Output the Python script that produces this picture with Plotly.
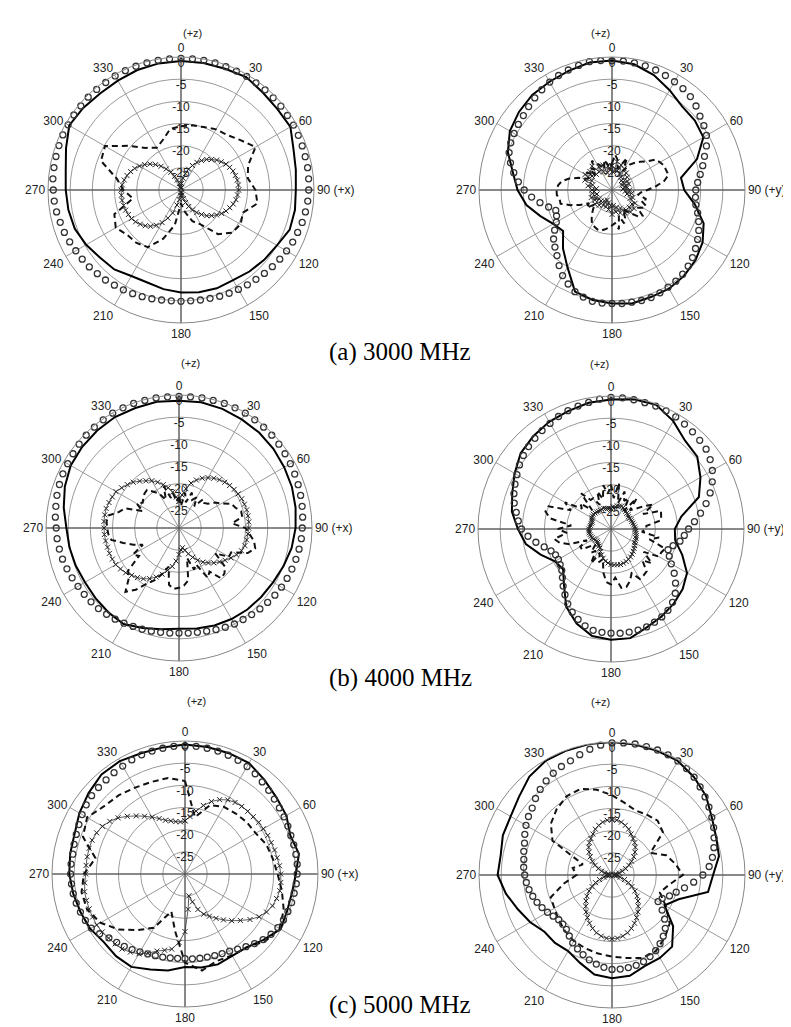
import plotly.graph_objects as go

W, H = 791, 1027
TH5 = list(range(0, 360, 5))
TH10 = list(range(0, 360, 10))
ANG_TICKS = list(range(0, 360, 30))
RING_LABELS = ["0", "-5", "-10", "-15", "-20", "-25"]
RING_VALUES = [0, -5, -10, -15, -20, -25]

# ---------------- (a) 3000 MHz, left (xz-plane) ----------------
A_L_SIM = [-0.3,-0.3,-0.3,-0.3,-0.4,-0.4,-0.4,-0.5,-0.5,-0.6,-0.6,-0.7,-0.7,-0.8,-0.9,-1.0,-1.0,-1.1,
           -1.2,-1.3,-1.5,-1.7,-2.0,-2.2,-2.5,-2.8,-3.1,-3.4,-3.7,-3.9,-4.1,-4.3,-4.5,-4.7,-4.8,-4.9,
           -4.9,-4.9,-4.8,-4.6,-4.4,-4.2,-4.0,-3.8,-3.5,-3.3,-3.0,-2.8,-2.6,-2.3,-2.0,-1.8,-1.5,-1.3,
           -1.2,-1.0,-0.9,-0.8,-0.7,-0.6,-0.6,-0.5,-0.5,-0.4,-0.4,-0.4,-0.3,-0.3,-0.3,-0.3,-0.3,-0.3]
A_L_SOLID = [-0.9,-0.9,-0.9,-0.6,-1.3,-1.6,-1.5,-3.0,-3.7,-4.1,-3.9,-3.9,-5.0,-5.5,-6.0,-6.5,-6.4,-6.6,
             -6.9,-7.3,-7.8,-7.6,-6.6,-6.2,-5.3,-4.5,-4.2,-4.0,-3.6,-2.4,-0.9,-1.2,-1.6,-1.5,-1.2,-1.0]
A_L_DASH = [-15.6,-15.2,-14.9,-14.2,-13.8,-12.5,-10.6,-13.9,-14.7,-13.2,-12.5,-15.1,-14.5,-15.0,-17.0,-21.0,-22.5,-25.0,
            -27.0,-22.0,-18.3,-15.1,-14.4,-14.2,-13.0,-14.0,-19.0,-17.0,-15.3,-10.8,-10.2,-14.5,-17.6,-19.0,-18.0,-16.0]
A_L_CROSS = [-29.5,-28.5,-27.3,-26.2,-25.0,-23.9,-22.8,-21.9,-21.0,-20.3,-19.5,-18.9,-18.3,-17.9,-17.5,-17.3,-17.1,-17.0,
             -17.0,-17.2,-17.4,-17.8,-18.3,-18.8,-19.4,-20.2,-21.0,-21.8,-22.8,-23.8,-24.8,-25.9,-27.0,-28.0,-28.8,-29.3,
             -29.5,-28.8,-27.8,-26.5,-24.5,-23.0,-21.5,-20.3,-19.3,-18.6,-18.0,-17.5,-17.1,-16.9,-16.7,-16.6,-16.5,-16.5,
             -16.5,-16.7,-17.0,-17.4,-17.9,-18.5,-19.2,-20.0,-20.9,-21.9,-23.0,-24.2,-25.4,-26.6,-27.6,-28.5,-29.2,-29.6]

# ---------------- (a) 3000 MHz, right (yz-plane) ----------------
A_R_SIM = [-0.8,-0.8,-0.9,-1.0,-1.2,-1.5,-1.8,-2.1,-2.5,-3.2,-4.1,-4.7,-5.4,-6.5,-7.8,-8.8,-9.8,-10.6,
           -11.1,-11.1,-10.8,-10.0,-9.2,-8.4,-7.7,-7.0,-6.3,-5.7,-5.2,-4.9,-4.7,-4.4,-4.2,-4.2,-4.3,-4.3,
           -4.4,-4.4,-4.5,-5.0,-5.6,-6.6,-7.7,-9.2,-10.7,-11.8,-12.8,-14.2,-15.5,-16.2,-16.5,-15.2,-13.5,-11.8,
           -10.2,-8.8,-7.5,-6.3,-5.3,-4.8,-4.5,-4.2,-3.9,-3.4,-2.9,-2.4,-1.9,-1.5,-1.2,-0.9,-0.6,-0.7]
A_R_SOLID = [-0.8,-1.2,-2.4,-4.0,-5.4,-5.6,-6.2,-9.6,-14.2,-13.7,-11.0,-8.0,-6.4,-5.4,-4.7,-4.3,-4.3,-4.0,
             -4.4,-4.8,-5.6,-9.9,-12.8,-15.6,-14.7,-12.8,-10.4,-8.7,-7.3,-5.0,-3.4,-2.6,-2.0,-1.8,-1.4,-0.8]
A_R_DASH = [-24.0,-22.0,-23.0,-25.0,-24.0,-22.0,-25.0,-23.0,-22.0,-21.0,-20.0,-18.0,-17.5,-17.0,-17.0,-16.8,-18.0,-20.0,
            -22.0,-23.5,-24.0,-22.0,-23.0,-21.5,-22.0,-23.0,-21.0,-21.5,-23.0,-24.0,-25.0,-23.0,-22.0,-24.0,-21.0,-22.5,
            -22.0,-21.5,-21.0,-20.5,-20.5,-20.8,-21.0,-22.0,-23.0,-24.0,-25.0,-23.0,-24.0,-22.0,-20.0,-18.0,-18.0,-17.5,
            -17.5,-17.8,-18.5,-20.0,-22.0,-24.0,-24.0,-23.0,-25.0,-23.0,-24.0,-22.0,-23.0,-24.0,-25.0,-23.0,-24.0,-25.0]
A_R_CROSS = [-24.5,-26.0,-23.5,-25.5,-24.0,-26.0,-24.5,-26.5,-25.0,-27.0,-25.5,-27.0,-26.0,-27.5,-26.0,-27.0,-26.5,-27.5,
             -26.0,-27.0,-25.5,-26.5,-25.0,-25.5,-24.0,-24.5,-23.5,-24.5,-23.5,-24.5,-24.0,-25.5,-24.5,-26.0,-25.0,-26.5,
             -24.5,-26.5,-25.5,-27.0,-26.0,-27.5,-26.0,-27.0,-25.5,-26.5,-25.0,-26.5,-25.5,-26.0,-25.0,-26.5,-25.5,-26.0,
             -25.5,-26.5,-24.5,-25.5,-23.5,-25.0,-23.0,-24.5,-23.5,-25.0,-23.0,-25.0,-24.0,-25.5,-24.0,-26.0,-24.5,-25.5]

# ---------------- (b) 4000 MHz, left ----------------
B_L_SIM = [-0.3,-0.3,-0.2,-0.2,-0.1,-0.1,-0.1,-0.2,-0.3,-0.4,-0.6,-0.8,-1.0,-1.2,-1.4,-1.6,-1.8,-2.0,
           -2.2,-2.3,-2.5,-2.7,-2.9,-3.1,-3.3,-3.6,-3.9,-4.2,-4.5,-4.8,-5.0,-5.3,-5.6,-5.9,-6.1,-6.2,
           -6.3,-6.2,-6.1,-5.9,-5.7,-5.5,-5.2,-4.9,-4.6,-4.3,-4.1,-3.9,-3.7,-3.4,-3.1,-2.8,-2.6,-2.4,
           -2.3,-2.0,-1.8,-1.5,-1.3,-1.1,-1.0,-0.8,-0.6,-0.4,-0.3,-0.2,-0.1,-0.1,-0.1,-0.2,-0.2,-0.3]
B_L_SOLID = [-1.3,-1.2,-1.4,-1.7,-1.9,-2.2,-2.6,-2.9,-3.3,-3.7,-4.2,-4.9,-5.5,-5.8,-6.0,-6.3,-6.6,-7.0,
             -7.3,-6.8,-6.0,-5.0,-5.2,-5.4,-5.5,-5.2,-4.9,-4.6,-3.6,-2.6,-1.8,-1.5,-1.3,-1.1,-1.2,-1.1]
B_L_DASH = [-23.0,-25.0,-22.0,-24.0,-21.5,-23.0,-22.0,-24.0,-21.5,-22.0,-21.5,-20.0,-19.0,-17.0,-16.5,-15.5,-15.5,-18.0,
            -15.0,-14.0,-12.8,-12.2,-13.5,-17.0,-17.0,-20.0,-16.5,-15.5,-15.2,-18.0,-17.0,-21.0,-20.0,-23.0,-18.0,-17.0,
            -16.5,-16.2,-17.0,-21.0,-19.0,-17.0,-15.5,-13.0,-11.2,-14.0,-15.0,-19.0,-18.0,-21.0,-19.0,-17.0,-14.5,-14.0,
            -13.8,-13.6,-13.8,-16.0,-17.0,-21.0,-19.0,-20.0,-19.5,-19.0,-18.8,-20.0,-21.0,-23.0,-20.0,-23.0,-22.0,-24.0]
B_L_CROSS = [-24.0,-22.5,-21.0,-19.5,-18.5,-17.6,-16.9,-16.3,-15.8,-15.4,-15.1,-14.8,-14.6,-14.4,-14.3,-14.2,-14.2,-14.2,
             -14.3,-14.4,-14.5,-14.6,-15.0,-15.7,-16.5,-17.3,-18.1,-18.9,-19.7,-20.6,-21.6,-22.7,-23.8,-24.8,-25.5,-25.0,
             -24.0,-22.5,-21.2,-20.1,-18.9,-17.8,-16.8,-16.0,-15.4,-14.9,-14.3,-13.9,-13.5,-13.4,-13.3,-13.3,-13.2,-13.1,
             -13.1,-13.0,-13.0,-13.0,-13.2,-13.4,-13.6,-14.2,-14.8,-15.4,-16.2,-17.0,-17.7,-18.6,-19.6,-20.6,-21.8,-23.0]

# ---------------- (b) 4000 MHz, right ----------------
B_R_SIM = [-0.3,-0.3,-0.4,-0.5,-0.5,-0.6,-0.8,-1.1,-1.4,-1.7,-2.0,-2.7,-3.6,-4.8,-6.2,-7.8,-9.5,-11.1,
           -12.5,-13.4,-14.2,-15.5,-16.3,-15.5,-14.3,-12.6,-11.0,-9.5,-8.4,-7.6,-7.1,-6.8,-6.5,-6.4,-6.4,-6.4,
           -6.5,-6.6,-6.8,-7.4,-8.3,-9.3,-10.5,-11.9,-13.2,-14.5,-15.5,-16.0,-16.3,-16.2,-15.6,-14.4,-12.8,-11.2,
           -9.8,-9.0,-8.3,-7.4,-6.7,-6.1,-5.5,-4.8,-4.2,-3.7,-3.3,-2.9,-2.5,-2.0,-1.6,-1.3,-1.0,-0.6]
B_R_SOLID = [-0.8,-0.3,-0.2,-1.9,-4.0,-4.6,-6.7,-8.9,-13.9,-15.6,-15.3,-12.9,-10.2,-8.9,-8.0,-7.2,-6.4,-5.0,
             -5.0,-5.5,-7.3,-9.8,-13.5,-15.9,-15.4,-13.1,-10.5,-9.0,-7.3,-6.3,-4.9,-3.4,-2.7,-2.1,-1.7,-1.1]
B_R_DASH = [-20.0,-23.0,-19.5,-24.0,-21.0,-23.0,-22.0,-25.0,-21.0,-24.0,-23.0,-21.0,-19.0,-22.0,-18.0,-18.3,-18.5,-22.0,
            -22.0,-23.0,-19.0,-21.0,-17.0,-17.5,-17.5,-21.0,-18.0,-20.0,-17.5,-17.2,-17.0,-19.0,-17.5,-16.5,-16.5,-19.0,
            -17.5,-18.0,-20.0,-23.0,-22.0,-24.0,-21.0,-24.0,-23.0,-25.0,-24.0,-22.0,-22.0,-24.0,-20.0,-18.0,-17.0,-20.0,
            -18.0,-21.0,-16.0,-14.7,-15.0,-20.0,-18.0,-22.0,-21.0,-24.0,-19.5,-22.0,-22.0,-24.0,-21.0,-23.0,-20.0,-22.0]
B_R_CROSS = [-25.5,-25.0,-25.0,-24.6,-24.5,-24.3,-24.5,-24.6,-24.8,-25.0,-25.0,-25.2,-25.2,-25.0,-25.0,-24.9,-24.8,-24.6,
             -24.5,-24.4,-24.3,-24.1,-24.0,-23.9,-23.8,-23.5,-23.2,-22.9,-22.6,-22.3,-22.1,-21.9,-21.8,-21.7,-21.8,-21.9,
             -22.0,-22.3,-22.6,-23.2,-23.8,-24.4,-25.0,-25.3,-25.5,-25.7,-25.8,-25.7,-25.5,-25.3,-25.2,-25.1,-25.0,-25.0,
             -25.0,-25.2,-25.3,-25.4,-25.5,-25.3,-25.0,-24.9,-24.8,-24.9,-25.0,-25.1,-25.2,-25.1,-25.0,-25.2,-25.3,-25.4]

# ---------------- (c) 5000 MHz, left ----------------
C_L_SIM = [-1.1,-1.1,-1.2,-1.3,-1.5,-1.7,-2.0,-2.4,-2.9,-3.3,-3.7,-4.0,-4.2,-4.4,-4.6,-4.6,-4.6,-4.6,
           -4.7,-4.8,-5.0,-5.1,-5.3,-5.5,-5.8,-6.3,-7.0,-7.8,-8.6,-9.3,-9.9,-10.2,-10.4,-10.6,-10.7,-10.8,
           -10.9,-10.9,-10.8,-10.6,-10.4,-10.1,-9.7,-9.2,-8.7,-8.2,-7.6,-6.5,-5.6,-5.2,-4.9,-4.6,-4.4,-4.3,
           -4.2,-4.2,-4.3,-4.1,-3.9,-3.6,-3.2,-2.8,-2.5,-2.4,-2.3,-2.1,-1.9,-1.6,-1.4,-1.3,-1.2,-1.1]
C_L_SOLID = [-0.8,-0.9,-1.0,-1.1,-2.2,-3.1,-3.6,-4.7,-3.9,-5.0,-5.5,-5.5,-5.1,-6.9,-8.4,-8.7,-8.3,-8.6,
             -9.0,-7.9,-7.1,-5.8,-5.8,-6.1,-5.3,-4.9,-4.4,-3.9,-3.7,-3.5,-2.5,-1.6,-0.7,-0.6,-1.0,-1.0]
C_L_DASH = [-9.0,-17.0,-13.5,-12.5,-12.2,-11.8,-11.6,-10.5,-9.9,-9.1,-7.8,-6.3,-5.4,-6.4,-8.4,-8.8,-9.1,-7.9,
            -10.0,-17.0,-21.0,-16.0,-13.5,-10.5,-8.0,-6.5,-6.3,-7.2,-9.5,-5.5,-4.5,-6.2,-6.8,-7.5,-7.9,-8.0]
C_L_CROSS = [-18.0,-17.0,-15.6,-14.0,-12.6,-11.5,-10.7,-10.3,-10.1,-10.0,-9.9,-9.7,-9.6,-9.4,-9.3,-9.1,-8.9,-8.6,
             -8.4,-8.3,-8.3,-8.6,-9.0,-9.7,-10.7,-12.1,-13.7,-15.1,-16.5,-17.8,-19.0,-20.0,-21.5,-23.5,-25.0,-22.0,
             -17.0,-14.5,-12.8,-12.2,-11.5,-10.3,-9.2,-8.5,-7.9,-7.7,-7.5,-7.2,-7.0,-7.0,-7.0,-7.0,-7.0,-7.3,
             -7.6,-7.6,-7.6,-7.6,-7.7,-8.0,-8.5,-9.3,-10.3,-11.6,-12.9,-14.1,-15.2,-16.2,-17.1,-17.6,-18.0,-18.2]

# ---------------- (c) 5000 MHz, right ----------------
C_R_SIM = [-0.2,-0.1,0.0,0.0,0.0,-0.1,-0.3,-0.7,-1.2,-1.9,-2.6,-3.3,-4.0,-4.7,-5.5,-6.2,-7.0,-8.0,
           -9.5,-11.5,-13.4,-15.0,-16.2,-17.5,-18.0,-16.2,-14.5,-13.0,-12.0,-11.1,-10.3,-9.7,-9.2,-8.9,-8.8,-8.7,
           -8.7,-9.1,-9.6,-10.2,-10.9,-11.6,-12.3,-13.2,-14.0,-14.3,-14.3,-13.8,-13.2,-12.6,-12.0,-11.5,-11.0,-10.6,
           -10.3,-10.0,-9.8,-9.4,-9.0,-8.3,-7.6,-7.0,-6.5,-5.6,-4.8,-4.1,-3.5,-3.0,-2.6,-1.9,-1.2,-0.6]
C_R_SOLID = [0.0,-0.1,-0.2,-0.3,-1.2,-2.3,-4.0,-5.0,-5.5,-7.2,-8.0,-14.0,-16.3,-12.0,-8.9,-8.4,-8.2,-6.9,
             -6.7,-7.2,-8.9,-10.2,-10.0,-10.1,-8.7,-7.4,-5.7,-4.2,-4.5,-3.8,-3.6,-2.6,-1.0,-0.2,-0.1,0.0]
C_R_DASH = [-12.0,-13.5,-14.5,-14.3,-14.0,-15.0,-20.0,-17.0,-15.5,-14.0,-17.0,-18.5,-16.0,-13.0,-11.5,-10.2,-10.1,-11.0,
            -11.6,-12.0,-12.4,-12.8,-13.5,-14.3,-15.0,-15.3,-19.0,-22.0,-21.0,-23.0,-14.5,-12.0,-10.6,-9.5,-9.3,-10.5]
C_R_CROSS = [-17.5,-17.6,-17.9,-18.4,-19.0,-19.8,-20.5,-21.1,-21.8,-22.7,-23.6,-24.6,-25.6,-26.6,-27.5,-28.3,-29.0,-29.3,
             -29.5,-29.4,-29.0,-28.1,-27.0,-25.9,-24.8,-23.7,-22.6,-21.7,-20.8,-19.8,-18.9,-18.0,-17.2,-16.5,-16.0,-15.7,
             -15.6,-15.7,-16.0,-16.5,-17.2,-18.0,-18.9,-19.8,-20.8,-21.7,-22.6,-23.7,-24.8,-25.9,-27.0,-28.1,-29.0,-29.4,
             -29.5,-29.3,-29.0,-28.3,-27.5,-26.6,-25.6,-24.6,-23.6,-22.7,-21.8,-21.1,-20.5,-19.8,-19.0,-18.4,-17.9,-17.6]

CAPTIONS = ["(a) 3000 MHz", "(b) 4000 MHz", "(c) 5000 MHz"]

panels = [
    dict(cx=173, cy=182, axis="(+x)", data=(A_L_SIM, A_L_SOLID, A_L_DASH, A_L_CROSS)),
    dict(cx=604, cy=182, axis="(+y)", data=(A_R_SIM, A_R_SOLID, A_R_DASH, A_R_CROSS)),
    dict(cx=171, cy=520, axis="(+x)", data=(B_L_SIM, B_L_SOLID, B_L_DASH, B_L_CROSS)),
    dict(cx=603, cy=521, axis="(+y)", data=(B_R_SIM, B_R_SOLID, B_R_DASH, B_R_CROSS)),
    dict(cx=177, cy=866, axis="(+x)", data=(C_L_SIM, C_L_SOLID, C_L_DASH, C_L_CROSS)),
    dict(cx=604, cy=867, axis="(+y)", data=(C_R_SIM, C_R_SOLID, C_R_DASH, C_R_CROSS)),
]
caption_pos = [(392, 328), (392, 670), (392, 1013)]
R = 133

SANS = "Arial, Liberation Sans, sans-serif"
SERIF = "Times New Roman, Liberation Serif, serif"

def closed(vals):
    thetas = TH5 if len(vals) == 72 else TH10
    return list(vals) + [vals[0]], list(thetas) + [360]

fig = go.Figure()
annotations = []
for i, p in enumerate(panels):
    key = "polar" if i == 0 else f"polar{i+1}"
    sim, solid, dash, cross = p["data"]
    # main axes (darker)
    for th in (0, 90):
        fig.add_trace(go.Scatterpolar(r=[0, -30, 0], theta=[th, th, th + 180], mode="lines",
                                      line=dict(color="#444", width=1), subplot=key,
                                      hoverinfo="skip", showlegend=False))
    r, t = closed(cross)
    fig.add_trace(go.Scatterpolar(r=r, theta=t, mode="lines+markers", subplot=key,
                                  line=dict(color="#333", width=0.8),
                                  marker=dict(symbol="x-thin-open", size=5, color="#222",
                                              line=dict(width=1, color="#222")),
                                  cliponaxis=False, showlegend=False))
    r, t = closed(dash)
    fig.add_trace(go.Scatterpolar(r=r, theta=t, mode="lines", subplot=key,
                                  line=dict(color="#111", width=2, dash="6px,4px"),
                                  cliponaxis=False, showlegend=False))
    r, t = closed(solid)
    fig.add_trace(go.Scatterpolar(r=r, theta=t, mode="lines", subplot=key,
                                  line=dict(color="#000", width=2),
                                  cliponaxis=False, showlegend=False))
    fig.add_trace(go.Scatterpolar(r=sim, theta=TH5, mode="markers", subplot=key,
                                  marker=dict(symbol="circle-open", size=6, color="#333",
                                              line=dict(width=1.3, color="#333")),
                                  cliponaxis=False, showlegend=False))
    # radial labels along 0 deg
    fig.add_trace(go.Scatterpolar(r=[v - 1.5 for v in RING_VALUES], theta=[0] * len(RING_VALUES),
                                  mode="text", text=RING_LABELS, subplot=key,
                                  textfont=dict(family=SANS, size=12, color="#222"),
                                  cliponaxis=False, hoverinfo="skip", showlegend=False))
    ticktext = [str(a) for a in ANG_TICKS]
    ticktext[3] = "90 " + p["axis"]
    fig.update_layout(**{key: dict(
        domain=dict(x=[(p["cx"] - R) / W, (p["cx"] + R) / W],
                    y=[1 - (p["cy"] + R) / H, 1 - (p["cy"] - R) / H]),
        bgcolor="white",
        angularaxis=dict(rotation=90, direction="clockwise", tickmode="array",
                         tickvals=ANG_TICKS, ticktext=ticktext, ticks="",
                         showline=True, linecolor="#888", linewidth=1,
                         gridcolor="#9a9a9a", gridwidth=1,
                         tickfont=dict(family=SANS, size=12, color="#222")),
        radialaxis=dict(range=[-30, 0], tickvals=[-25, -20, -15, -10, -5], showticklabels=False,
                        showline=False, ticks="", gridcolor="#9a9a9a", gridwidth=1),
    )})
    annotations.append(dict(text="(+z)", x=p["cx"] / W, y=1 - (p["cy"] - R - 32) / H,
                            xref="paper", yref="paper", showarrow=False,
                            font=dict(family=SANS, size=11, color="#222")))

for cap, (x, y) in zip(CAPTIONS, caption_pos):
    annotations.append(dict(text=cap, x=x / W, y=1 - y / H, xref="paper", yref="paper",
                            showarrow=False, font=dict(family=SERIF, size=25, color="#000")))

fig.update_layout(width=W, height=H, margin=dict(l=0, r=0, t=0, b=0),
                  paper_bgcolor="white", showlegend=False, annotations=annotations)
fig.write_html("out.html")
